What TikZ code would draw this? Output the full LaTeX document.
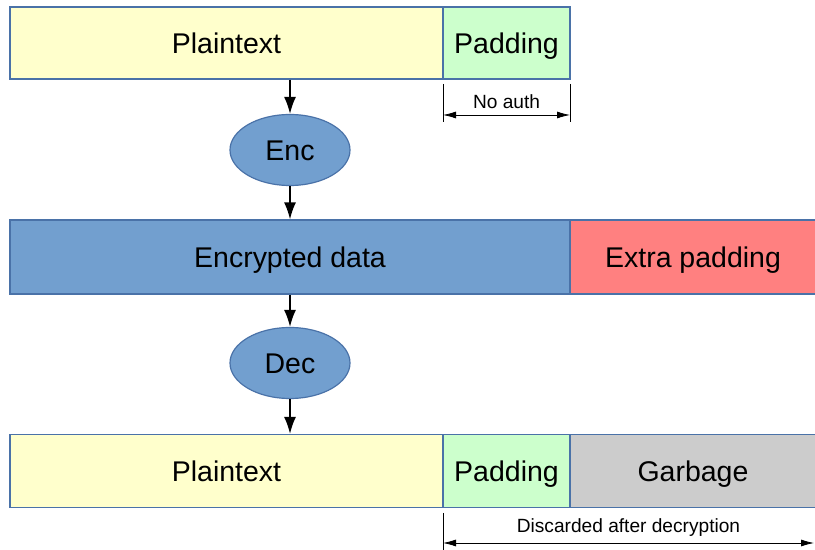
\documentclass[tikz,border=0pt]{standalone}
\usepackage{fontspec}
\setmainfont{Liberation Sans}
\usetikzlibrary{arrows, arrows.meta, shapes.geometric}

\definecolor{plaincol}{HTML}{FFFFCC}
\definecolor{padcol}{HTML}{CCFFCC}
\definecolor{enccol}{HTML}{729FCF}
\definecolor{extracol}{HTML}{FF8080}
\definecolor{garbcol}{HTML}{CCCCCC}
\definecolor{edgecol}{HTML}{4A72A8}

\tikzset{
  blk/.style={draw=edgecol, line width=0.6pt, inner sep=0, minimum height=36bp, text height=10.3bp, text depth=0bp, font=\fontsize{14.3}{17}\selectfont},
  oval/.style={ellipse, draw=edgecol, line width=0.6pt, fill=enccol, inner sep=0, minimum width=60bp, minimum height=35.5bp, text height=10.3bp, text depth=0bp, font=\fontsize{14.3}{17}\selectfont},
  dimtxt/.style={font=\fontsize{9.6}{11}\selectfont, inner sep=1pt},
  flow/.style={thick, -{Latex[length=8.5bp, width=6bp]}},
  dimline/.style={thin, {Latex[length=6.5bp, width=3.5bp]}-{Latex[length=6.5bp, width=3.5bp]}}
}

\begin{document}
\begin{tikzpicture}[>=latex, x=0.5bp, y=-0.5bp]

\useasboundingbox (0,0) rectangle (815,550);

% input row
\node[blk, fill=plaincol, minimum width=216.5bp] (plain1) at (226.5,43) {Plaintext};
\node[blk, fill=padcol, minimum width=63.5bp] (pad1) at (506.5,43) {Padding};

% no auth
\coordinate (na1) at (443,84);
\coordinate (na2) at (443,122);
\coordinate (na3) at (570,84);
\coordinate (na4) at (570,122);
\coordinate (na5) at (443,115);
\coordinate (na6) at (570,115);
\draw[thin] (na1) -- (na2);
\draw[thin] (na3) -- (na4);
\draw[dimline] (na5) -- (na6) node[dimtxt, midway, above, yshift=2bp]{No auth}; %no auth

\node[oval] (enc) at (290,150) {Enc};

% encrypted row
\node[blk, fill=enccol, minimum width=280bp, minimum height=37bp] (encdata) at (290,257) {Encrypted data};
\node[blk, fill=extracol, minimum width=123bp, minimum height=37bp] (extra) at (693,257) {Extra padding};

\node[oval] (dec) at (290,363) {Dec};

% output row
\node[blk, fill=plaincol, minimum width=216.5bp, minimum height=36.5bp] (plain2) at (226.5,471) {Plaintext};
\node[blk, fill=padcol, minimum width=63.5bp, minimum height=36.5bp] (pad2) at (506.5,471) {Padding};
\node[blk, fill=garbcol, minimum width=123bp, minimum height=36.5bp] (garb) at (693,471) {Garbage};

\draw[flow] (enc.north |- plain1.south) -- (enc.north);
\draw[flow] (enc.south) -- (enc.south |- encdata.north);
\draw[flow] (dec.north |- encdata.south) -- (dec.north);
\draw[flow] (dec.south) -- (dec.south |- plain2.north);

% discarded
\coordinate (dc1) at (443,513);
\coordinate (dc2) at (443,552);
\coordinate (dc3) at (814,543);
\draw[thin] (dc1) -- (dc2);
\draw[dimline] (dc1 |- dc3) -- (dc3) node[dimtxt, pos=0.5, above, yshift=2bp]{Discarded after decryption}; %discarded

\end{tikzpicture}
\end{document}
